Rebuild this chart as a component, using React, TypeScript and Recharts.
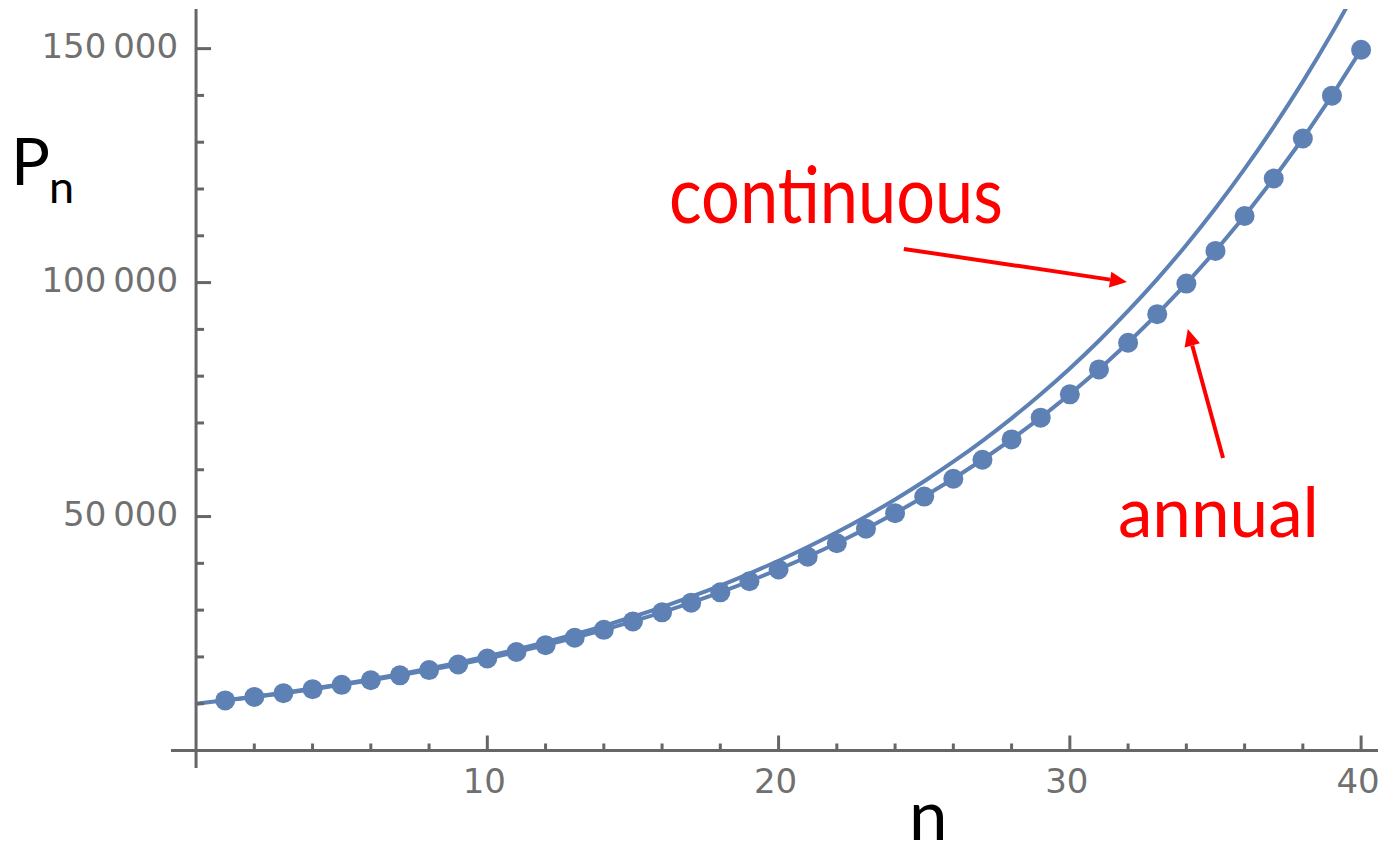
import React from 'react';
import { ComposedChart, Line, XAxis, YAxis, ReferenceLine, ReferenceDot } from 'recharts';

// ---- data ----
const annualN = [1, 2, 3, 4, 5, 6, 7, 8, 9, 10, 11, 12, 13, 14, 15, 16, 17, 18, 19, 20,
  21, 22, 23, 24, 25, 26, 27, 28, 29, 30, 31, 32, 33, 34, 35, 36, 37, 38, 39, 40];
const annualP = [10700, 11450, 12250, 13110, 14030, 15010, 16060, 17180, 18390, 19670,
  21050, 22520, 24100, 25790, 27590, 29520, 31590, 33800, 36170, 38700,
  41410, 44300, 47410, 50720, 54270, 58070, 62140, 66490, 71140, 76120,
  81450, 87150, 93250, 99780, 106770, 114240, 122240, 130790, 139950, 149750];

const contN = [0, 1, 2, 3, 4, 5, 6, 7, 8, 9, 10, 11, 12, 13, 14, 15, 16, 17, 18, 19, 20,
  21, 22, 23, 24, 25, 26, 27, 28, 29, 30, 31, 32, 33, 34, 35, 36, 37, 38, 39, 40];
const contP = [10000, 10730, 11500, 12340, 13230, 14190, 15220, 16320, 17510, 18780, 20140,
  21600, 23160, 24840, 26650, 28580, 30650, 32870, 35250, 37810, 40550,
  43490, 46650, 50030, 53660, 57550, 61720, 66190, 70990, 76140, 81660,
  87580, 93930, 100740, 108050, 115880, 124290, 133300, 142960, 153330, 164450];

const xTicks = [2, 4, 6, 8, 10, 12, 14, 16, 18, 20, 22, 24, 26, 28, 30, 32, 34, 36, 38, 40];
const xMajor = [10, 20, 30, 40];
const xTickLabels = ['10', '20', '30', '40'];
const yTicks = [10000, 20000, 30000, 40000, 50000, 60000, 70000, 80000, 90000, 100000,
  110000, 120000, 130000, 140000, 150000];
const yMajor = [50000, 100000, 150000];
const yTickLabels = ['50\u2009000', '100\u2009000', '150\u2009000'];

const xDomain = [-0.86, 40.58];
const yDomain = [-3740, 158470];

// annotations (data coordinates)
const contLabel = { n: 21.97, p: 112800, text: 'continuous' };
const annualLabel = { n: 35.1, p: 45630, text: 'annual' };
const contArrow = [{ x: 24.3, y: 107200 }, { x: 31.96, y: 100100 }];
const annualArrow = [{ x: 35.26, y: 62510 }, { x: 34.05, y: 90080 }];

const annualData = annualN.map((n, i) => ({ n, p: annualP[i] }));
const contData = contN.map((n, i) => ({ n, p: contP[i] }));

const BLUE = '#5E81B5';
const AXIS = '#666666';
const TICKTXT = '#707070';
const RED = '#FF0000';
const TICK_FONT = '"DejaVu Sans", sans-serif';
const ANNOT_FONT = 'Lato, "Open Sans", sans-serif';

const arrowShape = (p: any) => {
  const { x1, y1, x2, y2 } = p;
  const ang = Math.atan2(y2 - y1, x2 - x1);
  const L = 17;
  const W = 8;
  const bx = x2 - L * Math.cos(ang);
  const by = y2 - L * Math.sin(ang);
  const px = -Math.sin(ang) * W;
  const py = Math.cos(ang) * W;
  return (
    <g>
      <line x1={x1} y1={y1} x2={bx} y2={by} stroke={RED} strokeWidth={4} />
      <polygon points={`${x2},${y2} ${bx + px},${by + py} ${bx - px},${by - py}`} fill={RED} />
    </g>
  );
};

export default function App() {
  return (
    <div style={{ position: 'absolute', left: 0, top: 0, width: 1378, height: 846, background: '#fff' }}>
      <ComposedChart width={1378} height={846} margin={{ top: 9, right: 0, left: 171, bottom: 78 }}>
        <XAxis type="number" dataKey="n" domain={xDomain} allowDataOverflow hide height={0} />
        <YAxis type="number" dataKey="p" domain={yDomain} allowDataOverflow hide width={0} />
        <ReferenceLine y={0} stroke={AXIS} strokeWidth={3} ifOverflow="visible" />
        <ReferenceLine x={0} stroke={AXIS} strokeWidth={3} ifOverflow="visible" />
        {xTicks.map((t) => {
          const mi = xMajor.indexOf(t);
          return (
            <ReferenceDot
              key={'xt' + t}
              x={t}
              y={0}
              r={0}
              ifOverflow="visible"
              shape={(p: any) => (
                <g>
                  <line x1={p.cx} y1={p.cy} x2={p.cx} y2={p.cy - (mi >= 0 ? 15 : 7)} stroke={AXIS} strokeWidth={3} />
                  {mi >= 0 && (
                    <text x={p.cx - 3} y={p.cy + 42} textAnchor="middle" fontFamily={TICK_FONT} fontSize={34} fill={TICKTXT}>
                      {xTickLabels[mi]}
                    </text>
                  )}
                </g>
              )}
            />
          );
        })}
        {yTicks.map((t) => {
          const mi = yMajor.indexOf(t);
          return (
            <ReferenceDot
              key={'yt' + t}
              x={0}
              y={t}
              r={0}
              ifOverflow="visible"
              shape={(p: any) => (
                <g>
                  <line x1={p.cx} y1={p.cy} x2={p.cx + (mi >= 0 ? 15 : 8)} y2={p.cy} stroke={AXIS} strokeWidth={3} />
                  {mi >= 0 && (
                    <text x={p.cx - 18} y={p.cy + 9} textAnchor="end" fontFamily={TICK_FONT} fontSize={34} fill={TICKTXT}>
                      {yTickLabels[mi]}
                    </text>
                  )}
                </g>
              )}
            />
          );
        })}
        <Line
          data={contData}
          dataKey="p"
          type="monotone"
          stroke={BLUE}
          strokeWidth={4}
          dot={false}
          activeDot={false}
          isAnimationActive={false}
        />
        <Line
          data={annualData}
          dataKey="p"
          type="linear"
          stroke={BLUE}
          strokeWidth={4}
          dot={{ r: 10, fill: BLUE, stroke: 'none' }}
          activeDot={false}
          isAnimationActive={false}
        />
        <ReferenceLine segment={contArrow} ifOverflow="visible" shape={arrowShape} />
        <ReferenceLine segment={annualArrow} ifOverflow="visible" shape={arrowShape} />
        <ReferenceDot
          x={contLabel.n}
          y={contLabel.p}
          r={0}
          ifOverflow="visible"
          shape={(p: any) => (
            <text x={p.cx} y={p.cy} textAnchor="middle" fontFamily={ANNOT_FONT} fontSize={80} fill={RED}
              textLength={334} lengthAdjust="spacingAndGlyphs">
              {contLabel.text}
            </text>
          )}
        />
        <ReferenceDot
          x={annualLabel.n}
          y={annualLabel.p}
          r={0}
          ifOverflow="visible"
          shape={(p: any) => (
            <text x={p.cx} y={p.cy} textAnchor="middle" fontFamily={ANNOT_FONT} fontSize={70} fill={RED}
              textLength={201} lengthAdjust="spacingAndGlyphs">
              {annualLabel.text}
            </text>
          )}
        />
      </ComposedChart>
      <svg width={1378} height={846} style={{ position: 'absolute', left: 0, top: 0, pointerEvents: 'none' }}>
        <text x={11} y={185} fontFamily={ANNOT_FONT} fontSize={65} fill="#000">P</text>
        <text x={49} y={203} fontFamily={ANNOT_FONT} fontSize={45} fill="#000">n</text>
        <text x={909} y={840} fontFamily={ANNOT_FONT} fontSize={69} fill="#000">n</text>
      </svg>
    </div>
  );
}
